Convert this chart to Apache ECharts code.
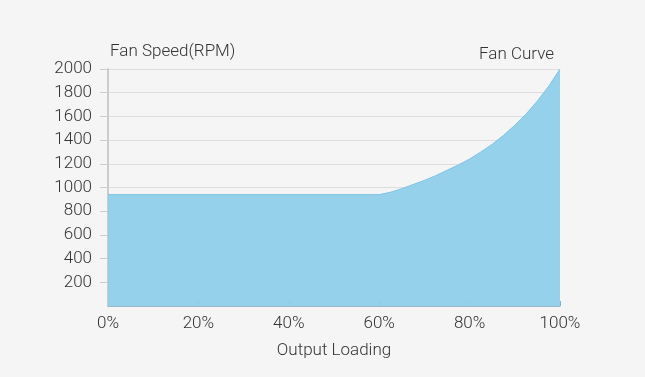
<!DOCTYPE html>
<html>
<head>
<meta charset="utf-8">
<script src="https://cdn.jsdelivr.net/npm/echarts@6/dist/echarts.min.js"></script>
<style>
  html, body { margin: 0; padding: 0; background: #f5f5f5; }
  #chart { width: 645px; height: 377px; }
</style>
</head>
<body>
<div id="chart"></div>
<script>
// output loading (%) and fan speed (RPM)
const loading = [0, 20, 40, 60, 62.5, 65, 67.5, 70, 72.5, 75, 77.5, 80, 82.5, 85, 87.5, 90, 92.5, 95, 97.5, 100];
const rpm = [940, 940, 940, 940, 960, 990, 1025, 1060, 1100, 1145, 1190, 1240, 1300, 1365, 1440, 1525, 1620, 1730, 1855, 2000];

const myChart = echarts.init(document.getElementById('chart'));

myChart.setOption({
  backgroundColor: '#f5f5f5',
  textStyle: { fontFamily: 'Roboto', fontWeight: 300 },
  title: {
    text: 'Fan Curve',
    right: 86,
    top: 41,
    textStyle: { fontSize: 17, fontWeight: 300, color: '#333' }
  },
  grid: { left: 108, right: 85, top: 69, bottom: 71 },
  xAxis: {
    type: 'value',
    min: 0,
    max: 100,
    interval: 20,
    name: 'Output Loading',
    nameLocation: 'middle',
    nameGap: 36,
    nameTextStyle: { fontSize: 17, fontWeight: 300, color: '#333' },
    axisLine: { show: true, lineStyle: { color: '#9cb7c8', width: 1 } },
    axisTick: { show: true, inside: true, length: 5, lineStyle: { color: '#7fb0cc' } },
    axisLabel: {
      fontSize: 17,
      fontWeight: 300,
      color: '#333',
      margin: 9,
      formatter: v => v + '%'
    },
    splitLine: { show: false }
  },
  yAxis: {
    type: 'value',
    min: 0,
    max: 2000,
    interval: 200,
    name: 'Fan Speed(RPM)',
    nameLocation: 'end',
    nameGap: 9,
    nameTextStyle: { fontSize: 17, fontWeight: 300, color: '#333', align: 'left', padding: [0, 0, 0, 2] },
    axisLine: { show: true, lineStyle: { color: '#cccccc', width: 2 } },
    axisTick: { show: true, length: 8, lineStyle: { color: '#cccccc' } },
    axisLabel: {
      fontSize: 17,
      fontWeight: 300,
      color: '#333',
      margin: 16,
      showMinLabel: false,
      formatter: v => String(v)
    },
    splitLine: { show: true, lineStyle: { color: '#dddddd', width: 1 } }
  },
  series: [
    {
      name: 'Fan Curve',
      type: 'line',
      data: loading.map((x, i) => [x, rpm[i]]),
      smooth: false,
      symbol: 'none',
      lineStyle: { color: '#7fc3e4', width: 1 },
      areaStyle: { color: '#8dcdea', opacity: 0.93 },
      z: 1
    }
  ]
});
</script>
</body>
</html>
